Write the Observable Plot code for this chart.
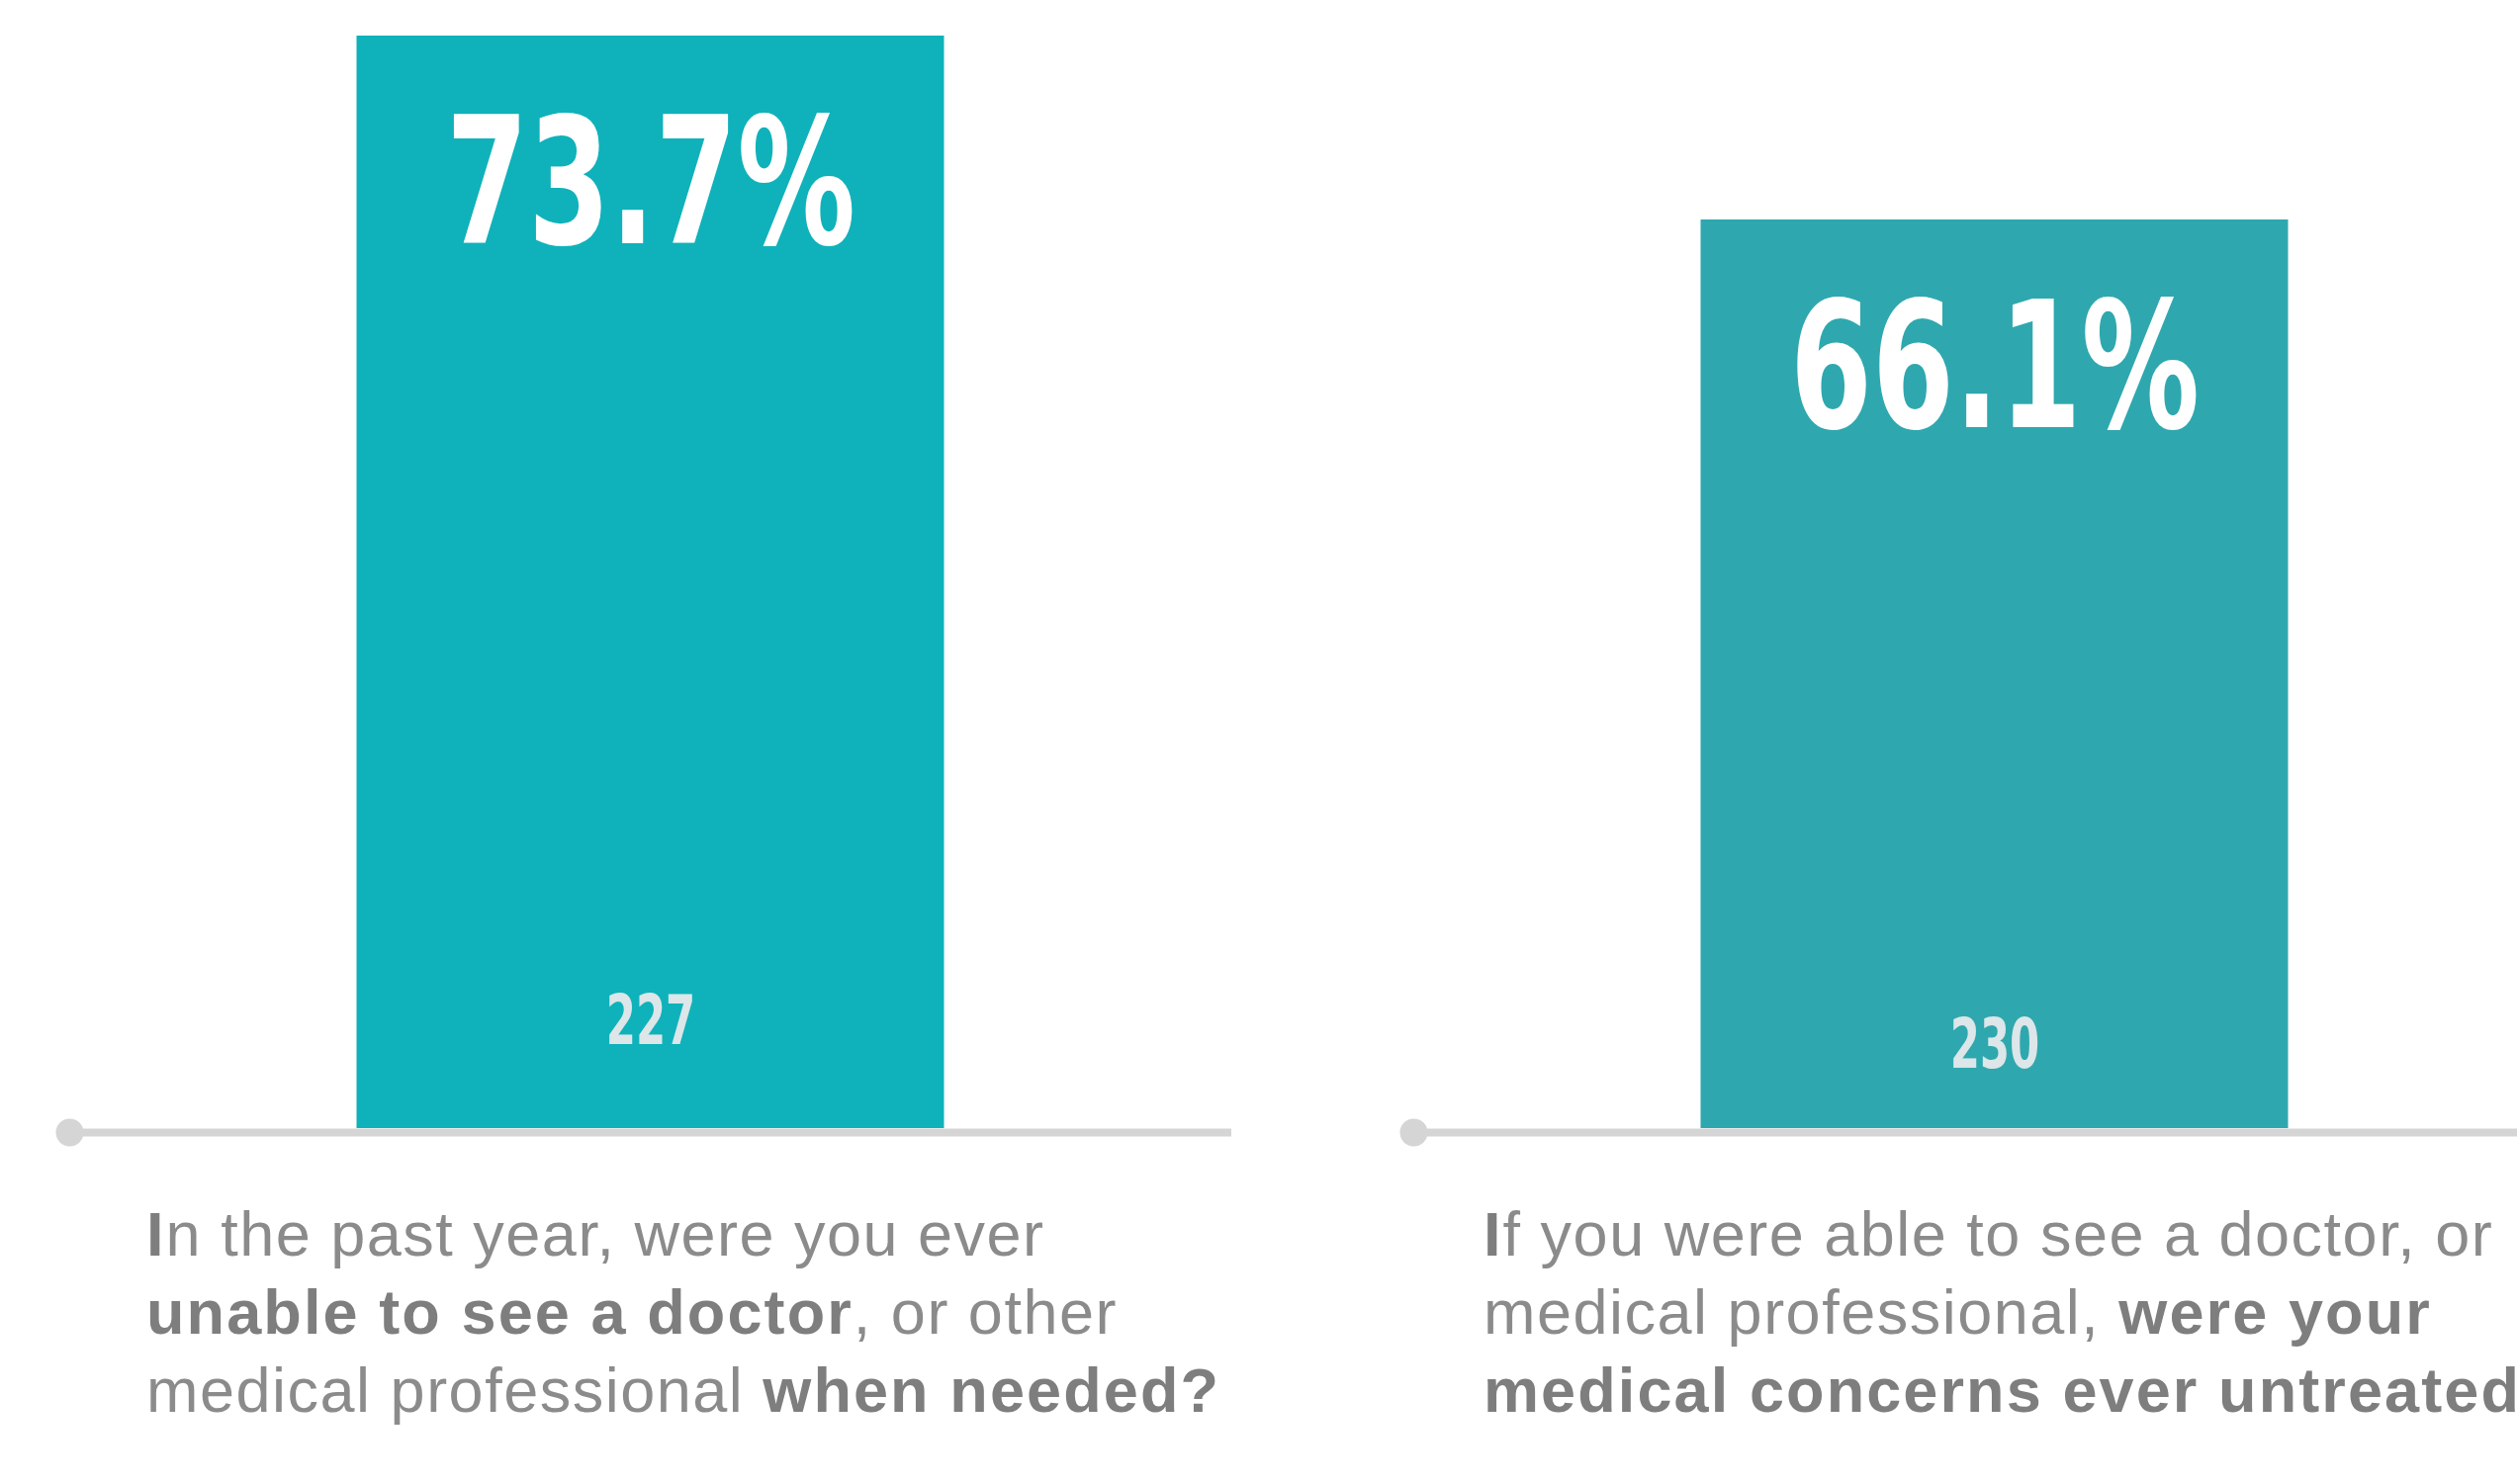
<!DOCTYPE html>
<html>
<head>
<meta charset="utf-8">
<script src="https://cdn.jsdelivr.net/npm/d3@7"></script>
<script src="https://cdn.jsdelivr.net/npm/@observablehq/plot@0.6"></script>
<style>
  html, body { margin: 0; padding: 0; background: #ffffff; }
  body { width: 2545px; height: 1501px; overflow: hidden; position: relative; }
  #chart svg { display: block; }
  .q {
    position: absolute;
    top: 1209px;
    font-family: "Liberation Sans", Arial, Helvetica, sans-serif;
    font-size: 63px;
    line-height: 79px;
    letter-spacing: 1.5px;
    color: #8b8b8b;
    white-space: nowrap;
  }
  .q b { color: #7e7e7e; font-weight: bold; letter-spacing: 2.1px; }
</style>
</head>
<body>
<div id="chart"></div>
<div id="q0" class="q" style="left:148px"></div>
<div id="q1" class="q" style="left:1500px"></div>
<script>
// ---- data ----
const questions = ["unable to see a doctor", "medical concerns untreated"];
const percents = [73.7, 66.1];
const counts = [227, 230];
const barColors = ["#0fb2ba", "#2ea8ae"];
// question text lines: [text, bold?] segments
const questionLines = [
  [
    [["I", true], ["n the past year, were you ever", false]],
    [["unable to see a doctor", true], [", or other", false]],
    [["medical professional ", false], ["when needed?", true]]
  ],
  [
    [["I", true], ["f you were able to see a doctor, or", false]],
    [["medical professional, ", false], ["were your", true]],
    [["medical concerns ever untreated?", true]]
  ]
];

// ---- table built from arrays ----
const rows = questions.map((q, i) => ({ q, pct: percents[i], n: counts[i] }));

const BASE = 28.55;       // value at the axis line
const PANEL = 1175;       // band width (panel width)
const BAR_INSET = (PANEL - 594) / 2;
const bigFont = '"Liberation Sans Narrow", "DejaVu Sans Condensed", "DejaVu Sans", sans-serif';

const chart = Plot.plot({
  width: 2545,
  height: 1160,
  marginTop: 0,
  marginBottom: 19,
  marginLeft: 0,
  marginRight: 0,
  x: { type: "band", domain: questions, range: [70, 2604], paddingInner: 0.1354, paddingOuter: 0, align: 0, axis: null },
  y: { domain: [BASE, 75.17], axis: null },
  color: { domain: questions, range: barColors },
  style: { background: "#ffffff", overflow: "visible" },
  marks: [
    Plot.tickY(rows, { x: "q", y: () => BASE, dy: 4, stroke: "#d5d5d5", strokeWidth: 8 }),
    Plot.dot(rows, { x: "q", y: () => BASE, dy: 4, dx: -PANEL / 2, r: 14, fill: "#d5d5d5", stroke: "none" }),
    Plot.barY(rows, { x: "q", y1: () => BASE, y2: "pct", fill: "q", insetLeft: BAR_INSET, insetRight: BAR_INSET }),
    Plot.text(rows, {
      x: "q", y: "pct", text: d => d.pct.toFixed(1) + "%",
      lineAnchor: "bottom", dy: 210, fill: "#ffffff",
      fontSize: 178, fontWeight: "bold", fontFamily: bigFont
    }),
    Plot.text(rows.slice(0, 1), {
      x: "q", y: () => BASE, text: d => String(d.n),
      lineAnchor: "bottom", dy: -86, fill: "#dde6e8",
      fontSize: 70, fontWeight: "bold", fontFamily: bigFont
    }),
    Plot.text(rows.slice(1, 2), {
      x: "q", y: () => BASE, text: d => String(d.n),
      lineAnchor: "bottom", dy: -62, fill: "#dde6e8",
      fontSize: 70, fontWeight: "bold", fontFamily: bigFont
    })
  ]
});
document.getElementById("chart").appendChild(chart);

// condense the labels horizontally (reference uses a condensed typeface)
d3.select(chart).selectAll("text").each(function () {
  const t = this.textContent || "";
  const factor = t.endsWith("%") ? 0.745 : 0.69;
  const w = this.getComputedTextLength();
  this.setAttribute("textLength", (w * factor).toFixed(1));
  this.setAttribute("lengthAdjust", "spacingAndGlyphs");
});

// question texts below the chart
questionLines.forEach((lines, i) => {
  const el = document.getElementById("q" + i);
  lines.forEach((segs) => {
    const line = document.createElement("div");
    segs.forEach(([t, b]) => {
      const s = document.createElement(b ? "b" : "span");
      s.textContent = t;
      line.appendChild(s);
    });
    el.appendChild(line);
  });
});
</script>
</body>
</html>
